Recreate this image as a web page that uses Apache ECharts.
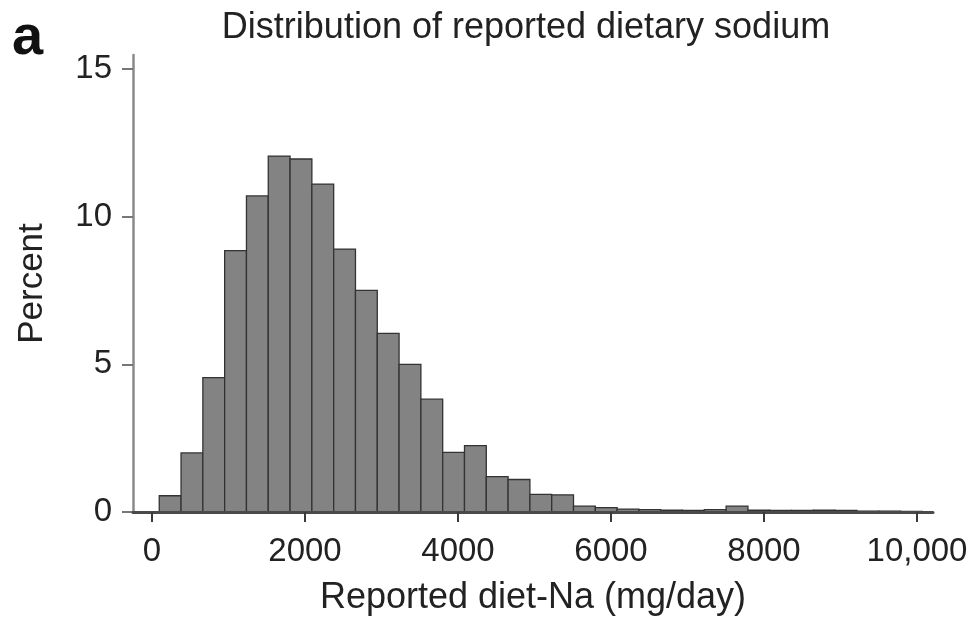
<!DOCTYPE html>
<html>
<head>
<meta charset="utf-8">
<script src="https://cdn.jsdelivr.net/npm/echarts@6/dist/echarts.min.js"></script>
<style>
  html, body { margin: 0; padding: 0; background: #ffffff; }
  #chart { width: 974px; height: 621px; }
</style>
</head>
<body>
<div id="chart"></div>
<script>
// Histogram bin edges, reported dietary sodium (mg/day)
const binEdges = [
  95, 380, 665, 950, 1235, 1520, 1805, 2090, 2375, 2660, 2945, 3230,
  3515, 3800, 4085, 4370, 4655, 4940, 5225, 5510, 5795, 6080, 6365, 6650,
  6935, 7220, 7505, 7790, 8075, 8360, 8645, 8930, 9215, 9500, 9785, 10070
];
// Percent of participants in each bin
const percent = [
  0.55, 2.0, 4.55, 8.85, 10.7, 12.05, 11.95, 11.1, 8.9, 7.5, 6.05, 5.0,
  3.82, 2.02, 2.25, 1.2, 1.1, 0.6, 0.58, 0.2, 0.15, 0.1, 0.08, 0.06,
  0.05, 0.08, 0.2, 0.06, 0.05, 0.05, 0.06, 0.05, 0.03, 0.03, 0.02
];
const xTicks = [0, 2000, 4000, 6000, 8000, 10000];
const yTicks = [0, 5, 10, 15];

const FONT = "'Liberation Sans', Arial, Helvetica, sans-serif";

const bins = percent.map((p, i) => [binEdges[i], binEdges[i + 1], p]);

const chart = echarts.init(document.getElementById('chart'), null, { renderer: 'canvas' });

chart.setOption({
  backgroundColor: '#ffffff',
  animation: false,
  title: {
    text: 'Distribution of reported dietary sodium',
    left: 526,
    top: 10,
    textAlign: 'center',
    padding: 0,
    textStyle: { fontFamily: FONT, fontSize: 36, fontWeight: 'normal', color: '#222222' }
  },
  graphic: [{
    type: 'text',
    left: 12,
    top: 11,
    style: { text: 'a', font: 'bold 56px ' + FONT, fill: '#111111' }
  }],
  grid: { left: 133, right: 41, top: 55, bottom: 108, containLabel: false },
  xAxis: {
    type: 'value',
    min: -248,
    max: 10209,
    z: 3,
    name: 'Reported diet-Na (mg/day)',
    nameLocation: 'middle',
    nameGap: 68,
    nameTextStyle: { fontFamily: FONT, fontSize: 36, color: '#222222' },
    axisLine: { show: true, lineStyle: { color: '#4a4a4a', width: 3 } },
    axisTick: { show: true, customValues: xTicks, length: 10, lineStyle: { color: '#3a3a3a', width: 2 } },
    axisLabel: {
      customValues: xTicks,
      margin: 23,
      fontFamily: FONT,
      fontSize: 33,
      color: '#222222',
      formatter: v => (v >= 10000 ? v.toLocaleString('en-US') : String(v))
    },
    splitLine: { show: false }
  },
  yAxis: {
    type: 'value',
    min: 0,
    max: 15.47,
    name: 'Percent',
    nameLocation: 'middle',
    nameGap: 83,
    nameTextStyle: { fontFamily: FONT, fontSize: 35, color: '#222222' },
    axisLine: { show: true, onZero: false, lineStyle: { color: '#8a8a8a', width: 2.5 } },
    axisTick: { show: true, customValues: yTicks, length: 11, lineStyle: { color: '#777777', width: 2 } },
    axisLabel: {
      customValues: yTicks,
      margin: 21,
      fontFamily: FONT,
      fontSize: 33,
      color: '#222222'
    },
    splitLine: { show: false }
  },
  series: [{
    type: 'custom',
    name: 'Percent',
    data: bins,
    encode: { x: [0, 1], y: 2 },
    renderItem: function (params, api) {
      const top = api.coord([api.value(0), api.value(2)]);
      const base = api.coord([api.value(1), 0]);
      return {
        type: 'rect',
        shape: { x: top[0], y: top[1], width: base[0] - top[0], height: base[1] - top[1] },
        style: { fill: '#838383', stroke: '#333333', lineWidth: 1.3 }
      };
    }
  }]
});
</script>
</body>
</html>
